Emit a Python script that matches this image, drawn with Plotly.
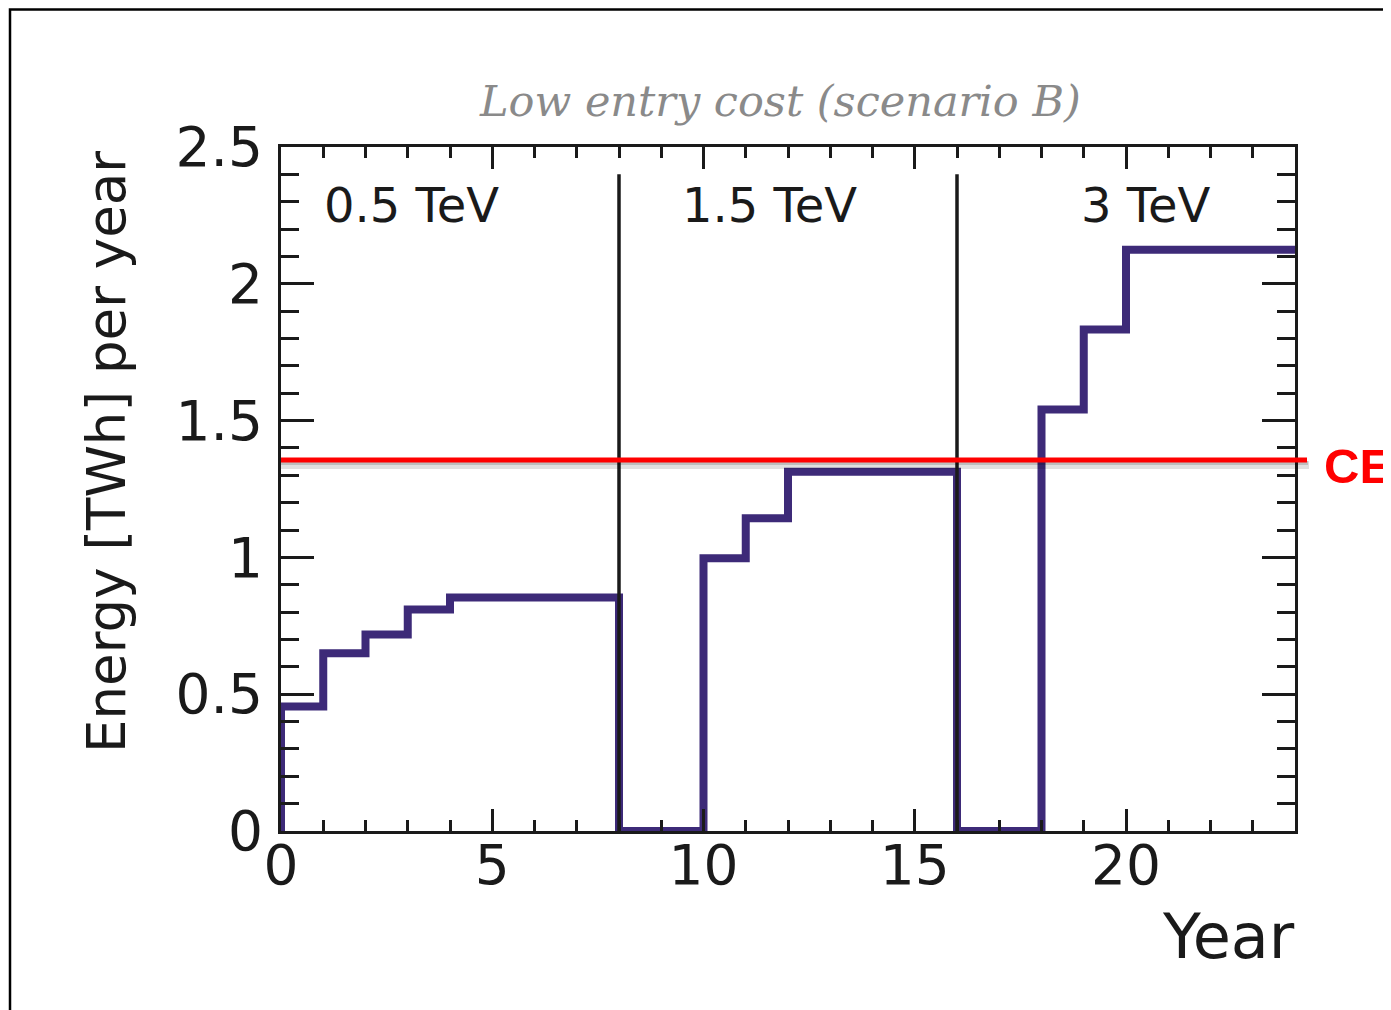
import plotly.graph_objects as go

# ---------------- data ----------------
YEAR_START = list(range(24))              # start of each one-year bin
ENERGY_TWH = [0.455, 0.650, 0.718, 0.810, 0.853, 0.853, 0.853, 0.853,
              0.0, 0.0,
              0.997, 1.143, 1.313, 1.313, 1.313, 1.313,
              0.0, 0.0,
              1.541, 1.833, 2.124, 2.124, 2.124, 2.124]
STAGE_LABELS = ["0.5 TeV", "1.5 TeV", "3 TeV"]
STAGE_BOUNDARIES = [8, 16]
CERN_LEVEL = 1.356
CERN_LABEL = "CE"
TITLE = "Low entry cost (scenario B)"
X_TITLE = "Year"
Y_TITLE = "Energy [TWh] per year"

# ---------------- style / layout constants ----------------
X_RANGE = [0, 24]
Y_RANGE = [0, 2.5]
STAGE_LABEL_X = [3.1, 11.57, 20.45]
STAGE_LABEL_Y = 2.288
SEPARATOR_TOP = 2.4
OFF = 8                       # page body margin
W, H = 1391 - OFF, 1010 - OFF
PL, PR, PT, PB = 281, 1295, 147, 831   # plot area in page pixels
ML, MR, MT, MB = PL - OFF, OFF + W - PR, PT - OFF, OFF + H - PB
PW, PH = PR - PL, PB - PT
INK = "#1a1a1a"
PURPLE = "#3d2a78"
SANS = "DejaVu Sans"


def px_to_paper_x(px):
    return (px - PL) / PW


def px_to_paper_y(py):
    return (PB - py) / PH


fig = go.Figure()

# step histogram
xs = [YEAR_START[0]] + YEAR_START + [YEAR_START[-1] + 1]
ys = [0] + ENERGY_TWH + [ENERGY_TWH[-1]]
fig.add_trace(go.Scatter(x=xs, y=ys, mode="lines", line_shape="hv",
                         line=dict(color=PURPLE, width=8),
                         hoverinfo="skip", showlegend=False))

# stage separators
for b in STAGE_BOUNDARIES:
    fig.add_trace(go.Scatter(x=[b, b], y=[Y_RANGE[0], SEPARATOR_TOP], mode="lines",
                             line=dict(color=INK, width=3.5),
                             hoverinfo="skip", showlegend=False))

# stage labels
for lab, lx in zip(STAGE_LABELS, STAGE_LABEL_X):
    fig.add_annotation(x=lx, y=STAGE_LABEL_Y, xref="x", yref="y", text=lab,
                       showarrow=False, xanchor="center", yanchor="middle",
                       font=dict(family=SANS, size=48, color=INK))

cern_paper = (CERN_LEVEL - Y_RANGE[0]) / (Y_RANGE[1] - Y_RANGE[0])
shapes = [
    # outer frame
    dict(type="rect", xref="paper", yref="paper",
         x0=px_to_paper_x(10), x1=2.0, y0=-1.0, y1=px_to_paper_y(OFF + 1.5),
         line=dict(color="black", width=2.5), fillcolor="rgba(0,0,0,0)", layer="above"),
    # shadow of CERN line
    dict(type="line", xref="paper", yref="paper",
         x0=0, x1=px_to_paper_x(1309), y0=cern_paper - 5 / PH, y1=cern_paper - 5 / PH,
         line=dict(color="rgba(0,0,0,0.12)", width=8), layer="above"),
    dict(type="line", xref="paper", yref="paper",
         x0=0, x1=px_to_paper_x(1308), y0=cern_paper - 3 / PH, y1=cern_paper - 3 / PH,
         line=dict(color="rgba(0,0,0,0.15)", width=4), layer="above"),
    # CERN line
    dict(type="line", xref="paper", yref="paper",
         x0=0, x1=px_to_paper_x(1307), y0=cern_paper, y1=cern_paper,
         line=dict(color="#ff0000", width=5), layer="above"),
]

fig.add_annotation(x=px_to_paper_x(1322), y=cern_paper, xref="paper", yref="paper",
                   text="<b>" + CERN_LABEL + "</b>", showarrow=False,
                   xanchor="left", yanchor="middle", yshift=-6,
                   font=dict(family="Liberation Sans", size=49, color="#ff0000"))

# title
fig.add_annotation(x=px_to_paper_x(780), y=px_to_paper_y(101), xref="paper", yref="paper",
                   text="<i>" + TITLE + "</i>", showarrow=False,
                   xanchor="center", yanchor="middle",
                   font=dict(family="DejaVu Serif", size=43, color="#8a8a8a"))

# axis titles
fig.add_annotation(x=px_to_paper_x(1297), y=px_to_paper_y(936), xref="paper", yref="paper",
                   text=X_TITLE, showarrow=False, xanchor="right", yanchor="middle",
                   font=dict(family=SANS, size=62, color=INK))
fig.add_annotation(x=px_to_paper_x(106), y=px_to_paper_y(452), xref="paper", yref="paper",
                   text=Y_TITLE, showarrow=False, textangle=-90,
                   xanchor="center", yanchor="middle",
                   font=dict(family=SANS, size=53, color=INK))

axis_common = dict(showline=True, linewidth=3, linecolor=INK, mirror="allticks",
                   ticks="inside", tickwidth=3, tickcolor=INK, showgrid=False,
                   zeroline=False, tickfont=dict(family=SANS, size=55, color=INK),
                   fixedrange=True)

fig.update_layout(
    width=W, height=H,
    margin=dict(l=ML, r=MR, t=MT, b=MB, pad=0),
    paper_bgcolor="white", plot_bgcolor="white",
    showlegend=False,
    shapes=shapes,
    xaxis=dict(range=X_RANGE, tickmode="linear", tick0=0, dtick=5, ticklen=22,
               ticklabelstandoff=-16,
               minor=dict(dtick=1, ticklen=11, tickwidth=3, tickcolor=INK,
                          ticks="inside", showgrid=False),
               **axis_common),
    yaxis=dict(range=Y_RANGE, tickmode="linear", tick0=0, dtick=0.5, ticklen=33,
               ticklabelstandoff=4,
               minor=dict(dtick=0.1, ticklen=18, tickwidth=3, tickcolor=INK,
                          ticks="inside", showgrid=False),
               **axis_common),
)

fig.write_html("out.html")
